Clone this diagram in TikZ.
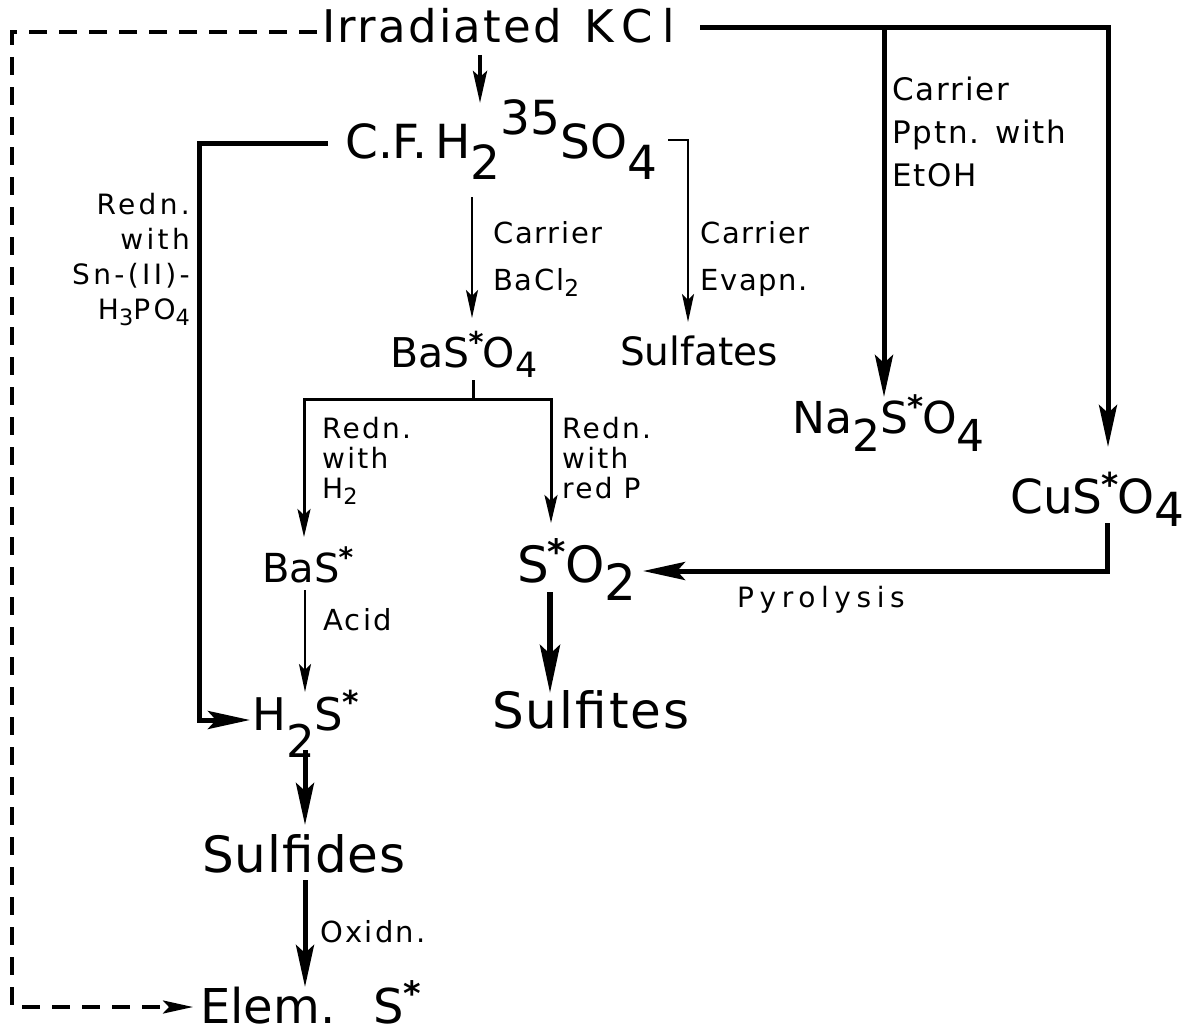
\documentclass[tikz,border=0pt]{standalone}
\usepackage{fontspec}
\usepackage{graphicx}
\setmainfont{DejaVu Sans}
\usetikzlibrary{arrows.meta}
\newcommand\fsz[2]{\fontsize{#1}{#2}\selectfont}
\newcommand\lf[3]{\fontsize{#1}{#2}\selectfont\addfontfeatures{LetterSpace=#3}}
\newcommand\bsub[2][0.45em]{\raisebox{-#1}{#2}}
\newcommand\bsup[1]{\raisebox{0.5em}{#1}}
\newcommand\ssub[1]{\raisebox{-0.22em}{\scalebox{0.8}{#1}}}
\newcommand\msub[1]{\raisebox{-0.25em}{\scalebox{0.85}{#1}}}
\newcommand\rstar{\kern-0.02em\raisebox{0.36em}{\scalebox{0.7}{\bfseries *}}\kern-0.02em}
\begin{document}
\begin{tikzpicture}[x=1pt,y=-1pt,
  txt/.style={inner sep=0pt,anchor=base west},
  lab/.style={inner sep=0pt,anchor=north west,align=left},
  labr/.style={inner sep=0pt,anchor=north east,align=right},
  thinarr/.style={line width=2.4pt,-{Stealth[length=28pt,width=12pt,inset=6pt]}},
  medarr/.style={line width=3pt,-{Stealth[length=28pt,width=13pt,inset=6pt]}},
  toparr/.style={line width=4pt,-{Stealth[length=32pt,width=14pt,inset=6pt]}},
  thickarr/.style={line width=5pt,-{Stealth[length=42pt,width=18pt,inset=8pt]}},
  bigarr/.style={line width=6pt,-{Stealth[length=48pt,width=20pt,inset=9pt]}},
  dasharr/.style={line width=3.5pt,dash pattern=on 18pt off 12pt,-{Stealth[length=30pt,width=13pt,inset=6pt]}},
]
\useasboundingbox[fill=white] (0,0) rectangle (1193,1033);

% main nodes
\node[txt,font=\fsz{45}{45}] (irr) at (322,43) {{\addfontfeatures{LetterSpace=5}Irradiated}\hspace{0.5em}{\addfontfeatures{LetterSpace=22}KCl}};
\node[txt,font=\fsz{47}{47}] (cf) at (345,158) {C.F.\,H\bsub{2}\bsup{35}SO\bsub{4}};
\node[txt,font=\fsz{41}{41}] (baso) at (390,367) {BaS\rstar O\msub{4}};
\node[txt,font=\fsz{39}{39}] (sulf) at (620,365) {Sulfates};
\node[txt,font=\fsz{44}{44}] (na) at (792,433) {Na\bsub[0.43em]{2}S\rstar O\bsub[0.43em]{4}};
\node[txt,font=\fsz{47}{47}] (cu) at (1010,513) {CuS\rstar O\bsub[0.28em]{4}};
\node[txt,font=\fsz{40}{40}] (bas) at (262,582) {BaS\rstar};
\node[txt,font=\fsz{50}{50}] (so2) at (517,582) {S\rstar O\bsub[0.36em]{2}};
\node[txt,font=\fsz{45}{45}] (h2s) at (252,730) {H\bsub[0.6em]{2}S\rstar};
\node[txt,font=\lf{50}{50}{4}] (sulfi) at (492,728) {Sulfites};
\node[txt,font=\lf{50}{50}{2}] (sulfd) at (202,872) {Sulfides};
\node[txt,font=\fsz{48}{48}] (elem) at (200,1023) {Elem.\hspace{0.8em}S\rstar};

% labels
\node[labr,font=\lf{28}{35}{12}] (lsn) at (190,193) {Redn.\\with\\Sn-(II)-\\H\ssub{3}PO\ssub{4}};
\node[lab,font=\lf{29}{47}{6}] (lbacl) at (493,221) {Carrier\\BaCl\ssub{2}};
\node[lab,font=\lf{29}{47}{6}] (levap) at (700,221) {Carrier\\Evapn.};
\node[lab,font=\lf{31}{43}{6}] (leto) at (892,77) {Carrier\\Pptn. with\\EtOH};
\node[lab,font=\lf{28}{30}{8}] (lh2) at (322,417) {Redn.\\with\\H\ssub{2}};
\node[lab,font=\lf{28}{30}{8}] (lredp) at (562,417) {Redn.\\with\\red P};
\node[lab,font=\lf{29}{29}{8}] (lacid) at (323,608) {Acid};
\node[lab,font=\lf{29}{29}{8}] (loxid) at (320,920) {Oxidn.};
\node[lab,font=\lf{28}{28}{20}] (lpyro) at (737,586) {Pyrolysis};

% connectors
\draw[toparr] ([shift={(158,12)}]irr.base west) -- ([shift={(135,-55)}]cf.base west);
\draw[thinarr] ([shift={(127,39)}]cf.base west) -- ([shift={(82,-49)}]baso.base west);
\draw[thinarr] ([shift={(323,-18)}]cf.base west) -| ([shift={(68,-43)}]sulf.base west);
\draw[thickarr] ([shift={(-17,-15)}]cf.base west) -| ([shift={(-53,-10)}]h2s.base west) -- ([shift={(-2,-10)}]h2s.base west);
\draw[thickarr] ([shift={(378,-15)}]irr.base west) -| ([shift={(98,-66)}]cu.base west);
\draw[thickarr] ([shift={(562,-15)}]irr.base west) -- ([shift={(92,-36)}]na.base west);
\draw[medarr] ([shift={(83,13)}]baso.base west) -- ++(0,19) -| ([shift={(42,-45)}]bas.base west);
\draw[medarr] ([shift={(83,32)}]baso.base west) -| ([shift={(34,-59)}]so2.base west);
\draw[thinarr] ([shift={(43,8)}]bas.base west) -- ([shift={(53,-38)}]h2s.base west);
\draw[bigarr] ([shift={(33,10)}]so2.base west) -- ([shift={(58,-35)}]sulfi.base west);
\draw[thickarr] ([shift={(53,20)}]h2s.base west) -- ([shift={(103,-47)}]sulfd.base west);
\draw[thickarr] ([shift={(103,8)}]sulfd.base west) -- ([shift={(105,-36)}]elem.base west);
\draw[thickarr] ([shift={(97,10)}]cu.base west) |- ([shift={(126,-11)}]so2.base west);
\draw[dasharr] ([shift={(-5,-11)}]irr.base west) -| ([shift={(-188,-16)}]elem.base west) -- ([shift={(-7,-16)}]elem.base west);
\end{tikzpicture}
\end{document}
